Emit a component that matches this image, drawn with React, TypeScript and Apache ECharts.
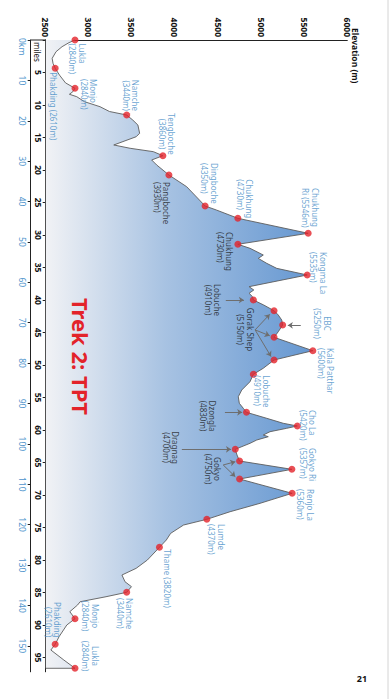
import React, { useEffect, useRef } from "react";
import * as echarts from "echarts";

// ---- Data (distance in miles, elevation in metres) ----
const profileMiles = [
  0, 0.41, 1.03, 1.8, 2.82, 3.59, 4.35, 5.4, 6.6, 7.43,
  7.95, 8.35, 8.72, 9.49, 10.26, 11.0, 11.54, 12.31, 13.08, 14.35,
  14.88, 16.15, 16.66, 17.18, 17.8, 18.46, 19.23, 20.77, 22.57, 24.15,
  25.54, 26.15, 27.43, 29.74, 31.43, 32.05, 33.08, 33.6, 34.36, 35.13,
  36.15, 37.95, 38.46, 38.97, 39.49, 40.0, 40.77, 41.65, 42.31, 43.08,
  43.85, 44.88, 45.74, 47.8, 49.23, 50.5, 51.43, 52.57, 53.85, 54.88,
  55.89, 56.66, 57.28, 58.2, 58.97, 59.38, 59.74, 60.26, 60.77, 61.03,
  61.54, 62.05, 62.97, 63.85, 64.77, 66.05, 67.54, 69.74, 71.28, 72.57,
  73.74, 74.62, 75.9, 76.92, 78.05, 80.0, 81.28, 82.31, 83.34, 84.1,
  84.97, 85.65, 86.42, 86.92, 87.95, 89.03, 90.0, 91.8, 92.97, 93.85,
  95.38, 96.66, 96.66,
];
const profileElev = [
  2840, 2770, 2690, 2620, 2575, 2585, 2610, 2660, 2730, 2840,
  2815, 2775, 2860, 2950, 3130, 3240, 3440, 3510, 3570, 3590,
  3550, 3290, 3480, 3749, 3860, 3730, 3788, 3930, 4136, 4250,
  4350, 4480, 4730, 5546, 4730, 4871, 5025, 4967, 5065, 5181,
  5535, 4860, 4915, 4860, 4900, 4910, 5030, 5150, 5199, 5239,
  5250, 5199, 5150, 5600, 5150, 5025, 4910, 4871, 4775, 4735,
  4747, 4793, 4830, 5065, 5257, 5420, 5297, 5103, 5025, 5083,
  4949, 4871, 4700, 4720, 4750, 5357, 4750, 5360, 4987, 4640,
  4370, 4100, 3950, 3900, 3820, 3680, 3550, 3385, 3420, 3495,
  3440, 3200, 2900, 2870, 2780, 2840, 2745, 2655, 2610, 2560,
  2710, 2840, 2500,
];

const waypointMiles = [
  0, 4.35, 7.43, 11.54, 17.8, 20.77, 25.54, 27.43, 29.74, 31.43,
  36.15, 40.0, 41.65, 43.85, 45.74, 47.8, 49.23, 51.43, 57.28, 59.38,
  62.97, 64.77, 66.05, 67.54, 69.74, 73.74, 78.05, 84.97, 89.03, 92.97,
  96.66,
];
const waypointElev = [
  2840, 2610, 2840, 3440, 3860, 3930, 4350, 4730, 5546, 4730,
  5535, 4910, 5150, 5250, 5150, 5600, 5150, 4910, 4830, 5420,
  4700, 4750, 5357, 4750, 5360, 4370, 3820, 3440, 2840, 2610,
  2840,
];
const waypointLabels = [
  "Lukla\n(2840m)", "Phakding (2610m)", "Monjo\n(2840m)", "Namche\n(3440m)",
  "Tengboche\n(3860m)", "Pangboche\n(3930m)", "Dingboche\n(4350m)", "Chukhung\n(4730m)",
  "Chukhung\nRi (5546m)", "Chukhung\n(4730m)", "Kongma La\n(5535m)", "Lobuche\n(4910m)",
  "", "EBC\n(5250m)", "Gorak Shep\n(5150m)", "Kala Patthar\n(5600m)",
  "", "Lobuche\n(4910m)", "Dzongla\n(4830m)", "Cho La\n(5420m)",
  "Dragnag\n(4700m)", "Gokyo\n(4750m)", "Gokyo Ri\n(5357m)", "",
  "Renjo La\n(5360m)", "Lumde\n(4370m)", "Thame (3820m)", "Namche\n(3440m)",
  "Monjo\n(2840m)", "Phakding\n(2610m)", "Lukla\n(2840m)",
];

// annotation arrows: from (miles, elev) to (miles, elev)
const arrowFromMiles = [40.0, 43.9, 44.6, 44.6, 44.6, 57.28, 62.97, 65.38, 65.38];
const arrowFromElev = [4590, 5460, 4930, 4930, 4930, 4580, 4080, 4560, 4560];
const arrowToMiles = [40.0, 43.9, 42.2, 45.5, 48.7, 57.28, 62.97, 64.88, 67.18];
const arrowToElev = [4800, 5310, 5100, 5100, 5115, 4780, 4650, 4700, 4700];

const mileTicks = [0, 5, 10, 15, 20, 25, 30, 35, 40, 45, 50, 55, 60, 65, 70, 75, 80, 85, 90, 95];
const mileLabels = [5, 10, 15, 20, 25, 30, 35, 40, 45, 50, 55, 60, 65, 70, 75, 80, 85, 90, 95];
const kmTicks = [0, 10, 20, 30, 40, 50, 60, 70, 80, 90, 100, 110, 120, 130, 140, 150];
const kmLabels = [10, 20, 30, 40, 50, 60, 70, 80, 90, 100, 110, 120, 130, 140, 150];
const elevLabels = [2500, 3000, 3500, 4000, 4500, 5000, 5500, 6000];

const MILES_MAX = 97.2;
const KM_PER_MILE = 1.609344;

// ---- label layout (not data): align, dx, dy, dark? ----
const labelLayout: [string, number, number, boolean][] = [
  ["left", 3.5, -2.5, false], ["left", 4, 1.5, false], ["left", -9.3, -14, false], ["right", -4, -4.3, false],
  ["center", -21.7, -4, false], ["left", 7, 6.9, true], ["left", -43, -4.2, false], ["left", -39, -7, false],
  ["left", -45.3, -2.4, false], ["left", -12.3, 13, true], ["left", -23, -11.5, false], ["center", 0, 40.2, true],
  ["left", 0, 0, false], ["center", -1.5, -39.8, false], ["center", -7.8, 28.7, true], ["left", -2.7, -13.2, false],
  ["left", 0, 0, false], ["left", 1, -8.5, false], ["center", 3.7, 38.6, true], ["left", -16, -10.7, false],
  ["center", -1.8, 64.4, true], ["center", 8, 26.7, true], ["left", -21.3, -16, false], ["left", 0, 0, false],
  ["left", -4.3, -13.1, false], ["left", 4.7, -9.5, false], ["left", 2, -8.3, false], ["left", 5.7, 1.8, false],
  ["center", -2.7, -15.5, false], ["right", -6.8, 2.4, false], ["center", -12.3, -15.5, false],
];

const BLUE = "#3f8bc6";
const DARK = "#1a1a1a";
const RED = "#e3232a";
const FONT = "'Noto Sans', 'Open Sans', sans-serif";

function buildOption() {
  const profile = profileMiles.map((m, i) => [m, profileElev[i]]);
  const points = waypointMiles.map((m, i) => {
    const [align, dx, dy, dark] = labelLayout[i];
    const txt = waypointLabels[i];
    return {
      value: [m, waypointElev[i]],
      name: txt.replace("\n", " "),
      label: {
        show: txt !== "",
        formatter: txt,
        position: "inside",
        align,
        verticalAlign: "middle",
        offset: [dx, dy],
        color: dark ? DARK : BLUE,
        fontSize: 8,
        lineHeight: 9.5,
        fontFamily: FONT,
      },
    };
  });
  const arrows = arrowFromMiles.map((m, i) => [
    { coord: [m, arrowFromElev[i]] },
    { coord: [arrowToMiles[i], arrowToElev[i]] },
  ]);

  const textStyle = (extra: any) => ({
    fontFamily: FONT,
    verticalAlign: "middle",
    textVerticalAlign: "middle",
    ...extra,
  });

  return {
    animation: false,
    backgroundColor: "#ffffff",
    grid: {
      left: 40,
      right: 27.2,
      top: 44.7,
      bottom: 45.7,
      containLabel: false,
      outerBoundsMode: "none",
    },
    xAxis: [
      {
        type: "value",
        min: 0,
        max: MILES_MAX,
        position: "bottom",
        axisLine: { show: true, onZero: false, lineStyle: { color: "#222", width: 1 } },
        axisTick: { show: true, customValues: mileTicks, length: 3, lineStyle: { color: "#222" } },
        axisLabel: {
          customValues: mileLabels,
          formatter: (v: number) => String(v),
          color: "#111",
          fontWeight: "bold",
          fontSize: 8.5,
          margin: 3,
          fontFamily: FONT,
        },
        splitLine: { show: false },
      },
      {
        type: "value",
        min: 0,
        max: MILES_MAX * KM_PER_MILE,
        position: "bottom",
        offset: 15,
        axisLine: { show: true, onZero: false, lineStyle: { color: "#222", width: 1 } },
        axisTick: { show: true, customValues: kmTicks, length: 3, lineStyle: { color: "#222" } },
        axisLabel: {
          customValues: kmLabels,
          formatter: (v: number) => String(v),
          color: "#4d93cc",
          fontSize: 8.5,
          margin: 4,
          fontFamily: FONT,
        },
        splitLine: { show: false },
      },
    ],
    yAxis: {
      type: "value",
      min: 2500,
      max: 6000,
      interval: 500,
      axisLine: { show: true, onZero: false, lineStyle: { color: "#222", width: 1 } },
      axisTick: { show: false },
      axisLabel: {
        customValues: elevLabels,
        formatter: (v: number) => String(v),
        color: "#111",
        fontWeight: "bold",
        fontSize: 8.5,
        margin: 3,
        fontFamily: FONT,
      },
      splitLine: { show: false },
    },
    series: [
      {
        type: "line",
        name: "profile",
        data: profile,
        xAxisIndex: 0,
        showSymbol: false,
        symbol: "none",
        lineStyle: { color: "#5c5c5c", width: 0.9 },
        areaStyle: {
          origin: "start",
          opacity: 1,
          color: new echarts.graphic.LinearGradient(0, 0, 0, 1, [
            { offset: 0, color: "#6597d1" },
            { offset: 0.55, color: "#a7c2e2" },
            { offset: 1, color: "#f1f2f5" },
          ]),
        },
        z: 2,
        silent: true,
      },
      {
        type: "scatter",
        name: "waypoints",
        xAxisIndex: 0,
        data: points,
        symbol: "circle",
        symbolSize: 7,
        itemStyle: { color: RED },
        z: 5,
        markLine: {
          silent: true,
          symbol: ["none", "arrow"],
          symbolSize: 5,
          lineStyle: { color: "#6e6e6e", width: 1, type: "solid" },
          label: { show: false },
          emphasis: { disabled: true },
          data: arrows,
        },
      },
    ],
    graphic: [
      {
        type: "line",
        z: 100,
        shape: { x1: 40, y1: 346, x2: 40, y2: 361.5 },
        style: { stroke: "#222", lineWidth: 1 },
      },
      {
        type: "line",
        z: 100,
        shape: { x1: 0, y1: 4, x2: 699, y2: 4 },
        style: { stroke: "#d4d4d4", lineWidth: 1 },
      },
      {
        type: "text",
        z: 100,
        x: 28,
        y: 37,
        style: textStyle({
          text: "Elevation (m)",
          fill: "#111",
          fontSize: 8.5,
          fontWeight: "bold",
          align: "left",
          textAlign: "left",
        }),
      },
      {
        type: "text",
        z: 100,
        x: 42,
        y: 355,
        style: textStyle({
          text: "miles",
          fill: "#111",
          fontSize: 8,
          align: "left",
          textAlign: "left",
        }),
      },
      {
        type: "text",
        z: 100,
        x: 38,
        y: 369.5,
        style: textStyle({
          text: "0km",
          fill: "#4d93cc",
          fontSize: 8.5,
          align: "left",
          textAlign: "left",
        }),
      },
      {
        type: "text",
        z: 100,
        x: 356.5,
        y: 311.5,
        style: textStyle({
          text: "Trek 2: TPT",
          fill: RED,
          fontSize: 22,
          fontWeight: "bold",
          align: "center",
          textAlign: "center",
        }),
      },
      {
        type: "text",
        z: 100,
        x: 678,
        y: 30,
        rotation: Math.PI / 2,
        style: textStyle({
          text: "21",
          fill: "#111",
          fontSize: 9,
          fontWeight: "bold",
          align: "center",
          textAlign: "center",
        }),
      },
    ],
  };
}

export default function App() {
  const ref = useRef<HTMLDivElement>(null);
  useEffect(() => {
    const el = ref.current;
    if (!el) return;
    const chart = echarts.init(el, undefined, { renderer: "svg", width: 699, height: 392 });
    chart.setOption(buildOption() as any);
    return () => chart.dispose();
  }, []);
  return (
    <div
      style={{
        position: "fixed",
        left: 0,
        top: 0,
        width: 392,
        height: 699,
        overflow: "hidden",
        background: "#ffffff",
      }}
    >
      <div
        ref={ref}
        style={{
          position: "absolute",
          left: 0,
          top: 0,
          width: 699,
          height: 392,
          transformOrigin: "0 0",
          transform: "translate(392px, 0px) rotate(90deg)",
        }}
      />
    </div>
  );
}
